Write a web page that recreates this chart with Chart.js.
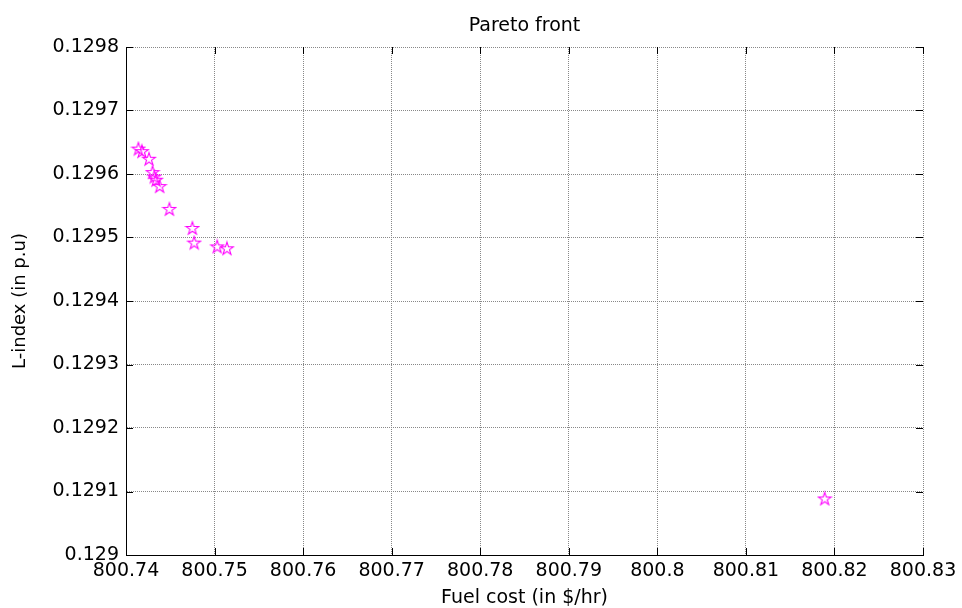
<!DOCTYPE html>
<html>
<head>
<meta charset="utf-8">
<script src="https://cdn.jsdelivr.net/npm/chart.js@4/dist/chart.umd.min.js"></script>
<style>
  body { margin: 0; background: #fff; }
  #wrap { width: 962px; height: 608px; }
</style>
</head>
<body>
<div id="wrap"><canvas id="pareto"></canvas></div>
<script>
// Pareto front points
const fuelCost = [800.7414, 800.7418, 800.7426, 800.7430, 800.7432, 800.7434, 800.7438,
                  800.7449, 800.7475, 800.7477, 800.7503, 800.7514, 800.8189];
const lIndex = [0.129640, 0.129636, 0.129624, 0.129603, 0.129596, 0.129591, 0.129581,
                0.129545, 0.129515, 0.129492, 0.129486, 0.129483, 0.129089];

const xTicks = [800.74, 800.75, 800.76, 800.77, 800.78, 800.79, 800.80, 800.81, 800.82, 800.83];
const xTickLabels = ['800.74', '800.75', '800.76', '800.77', '800.78', '800.79', '800.8', '800.81', '800.82', '800.83'];
const yTicks = [0.1290, 0.1291, 0.1292, 0.1293, 0.1294, 0.1295, 0.1296, 0.1297, 0.1298];
const yTickLabels = ['0.129', '0.1291', '0.1292', '0.1293', '0.1294', '0.1295', '0.1296', '0.1297', '0.1298'];

const FONT = "'DejaVu Sans', 'Liberation Sans', Arial, sans-serif";
Chart.defaults.color = '#000';
Chart.defaults.font.family = FONT;

// hollow five point star, like matlab's pentagram marker
function makeStar(color) {
    const c = document.createElement('canvas');
    c.width = 16;
    c.height = 16;
    const ctx = c.getContext('2d');
    const r = 6.8, ri = r * 0.382;
    ctx.beginPath();
    for (let i = 0; i < 10; i++) {
        const rad = i % 2 === 0 ? r : ri;
        const a = -Math.PI / 2 + i * Math.PI / 5;
        const px = 8 + rad * Math.cos(a);
        const py = 8.6 + rad * Math.sin(a);
        if (i === 0) ctx.moveTo(px, py); else ctx.lineTo(px, py);
    }
    ctx.closePath();
    ctx.strokeStyle = color;
    ctx.lineWidth = 1.1;
    ctx.stroke();
    return c;
}

// short tick marks pointing into the plot on all four sides
const innerTicks = {
    id: 'innerTicks',
    afterDraw(chart) {
        const {ctx, chartArea: a} = chart;
        const xs = chart.scales.x, ys = chart.scales.y;
        const len = 7;
        ctx.save();
        ctx.strokeStyle = '#000';
        ctx.lineWidth = 1;
        ctx.beginPath();
        xTicks.forEach(v => {
            const px = Math.round(xs.getPixelForValue(v)) + 0.5;
            ctx.moveTo(px, a.bottom); ctx.lineTo(px, a.bottom - len);
            ctx.moveTo(px, a.top); ctx.lineTo(px, a.top + len);
        });
        yTicks.forEach(v => {
            const py = Math.round(ys.getPixelForValue(v)) + 0.5;
            ctx.moveTo(a.left, py); ctx.lineTo(a.left + len, py);
            ctx.moveTo(a.right, py); ctx.lineTo(a.right - len, py);
        });
        ctx.stroke();
        ctx.restore();
    }
};

const points = fuelCost.map((x, i) => ({x: x, y: lIndex[i]}));

new Chart(document.getElementById('pareto'), {
    type: 'scatter',
    data: {
        datasets: [{
            label: 'Pareto front',
            data: points,
            pointStyle: makeStar('#ff00ff'),
            pointRadius: 7,
        }]
    },
    options: {
        responsive: true,
        maintainAspectRatio: false,
        animation: false,
        layout: {
            padding: {left: 0, right: 39, top: 0, bottom: 0}
        },
        scales: {
            x: {
                type: 'linear',
                min: 800.74,
                max: 800.83,
                afterBuildTicks: (scale) => {
                    scale.ticks = xTicks.map(v => ({value: v}));
                },
                afterFit: (scale) => {
                    scale.height = 53;
                },
                grid: {
                    color: '#888',
                    lineWidth: 1,
                    drawTicks: false,
                },
                border: {
                    display: true,
                    color: '#000',
                    width: 1,
                    dash: [1, 1],
                },
                ticks: {
                    autoSkip: false,
                    maxRotation: 0,
                    padding: 5,
                    font: {size: 19},
                    callback: (value, index) => xTickLabels[index],
                },
                title: {
                    display: true,
                    text: 'Fuel cost (in $/hr)',
                    font: {size: 19, lineHeight: 1},
                    padding: {top: 0, bottom: 0.5},
                }
            },
            y: {
                type: 'linear',
                min: 0.1290,
                max: 0.1298,
                afterBuildTicks: (scale) => {
                    scale.ticks = yTicks.map(v => ({value: v}));
                },
                afterFit: (scale) => {
                    scale.width = 126;
                },
                grid: {
                    color: '#888',
                    lineWidth: 1,
                    drawTicks: false,
                },
                border: {
                    display: true,
                    color: '#000',
                    width: 1,
                    dash: [1, 1],
                },
                ticks: {
                    autoSkip: false,
                    padding: 7,
                    font: {size: 19},
                    callback: (value, index) => yTickLabels[index],
                },
                title: {
                    display: true,
                    text: 'L-index (in p.u)',
                    font: {size: 18, lineHeight: 1.2},
                    padding: {top: 9.2, bottom: 0},
                }
            }
        },
        plugins: {
            legend: {display: false},
            tooltip: {enabled: false},
            title: {
                display: true,
                text: 'Pareto front',
                fullSize: false,
                font: {size: 19, weight: 'normal', lineHeight: 1.2},
                padding: {top: 14.6, bottom: 9.6},
            }
        }
    },
    plugins: [innerTicks]
});
</script>
</body>
</html>
